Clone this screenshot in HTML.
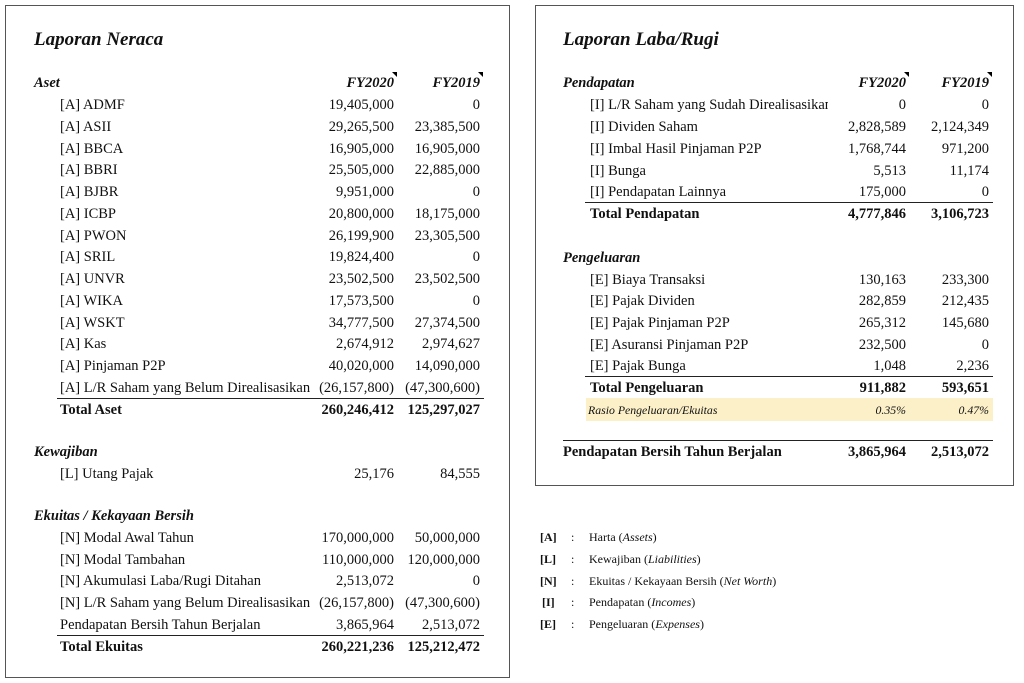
<!DOCTYPE html>
<html><head><meta charset="utf-8"><style>
body{margin:0;width:1024px;height:683px;background:#fff;position:relative;overflow:hidden;font-family:"Liberation Serif",serif;font-size:14.5px;color:#111}
.box{position:absolute;border:1.5px solid #555;box-sizing:border-box}
.t{position:absolute;line-height:20px;white-space:nowrap;margin-top:1px}
.h{font-weight:bold;font-style:italic}
.b{font-weight:bold}
.ttl{position:absolute;font-weight:bold;font-style:italic;font-size:19px;line-height:24px}
.ln{position:absolute;height:0;border-top:1.3px solid #222}
.tri{position:absolute;width:0;height:0;border-left:5px solid transparent;border-top:5px solid #000}
.lg{position:absolute;font-size:12px;line-height:16px;white-space:nowrap}
.rs{font-size:11.8px;font-style:italic}
</style></head><body>
<div class="box" style="left:5px;top:5px;width:505px;height:673px"></div>
<div class="box" style="left:535px;top:5px;width:479px;height:481px"></div>

<div class="ttl" style="left:34px;top:28px">Laporan Neraca</div>
<div class="t h" style="left:34px;top:72px">Aset</div>
<div class="t h" style="right:630px;top:72px">FY2020</div><div class="tri" style="left:392px;top:72px"></div>
<div class="t h" style="right:544px;top:72px">FY2019</div><div class="tri" style="left:478px;top:72px"></div>

<div class="t" style="left:60px;top:94px">[A] ADMF</div><div class="t" style="right:630px;top:94px">19,405,000</div><div class="t" style="right:544px;top:94px">0</div>
<div class="t" style="left:60px;top:116px">[A] ASII</div><div class="t" style="right:630px;top:116px">29,265,500</div><div class="t" style="right:544px;top:116px">23,385,500</div>
<div class="t" style="left:60px;top:138px">[A] BBCA</div><div class="t" style="right:630px;top:138px">16,905,000</div><div class="t" style="right:544px;top:138px">16,905,000</div>
<div class="t" style="left:60px;top:159px">[A] BBRI</div><div class="t" style="right:630px;top:159px">25,505,000</div><div class="t" style="right:544px;top:159px">22,885,000</div>
<div class="t" style="left:60px;top:181px">[A] BJBR</div><div class="t" style="right:630px;top:181px">9,951,000</div><div class="t" style="right:544px;top:181px">0</div>
<div class="t" style="left:60px;top:203px">[A] ICBP</div><div class="t" style="right:630px;top:203px">20,800,000</div><div class="t" style="right:544px;top:203px">18,175,000</div>
<div class="t" style="left:60px;top:225px">[A] PWON</div><div class="t" style="right:630px;top:225px">26,199,900</div><div class="t" style="right:544px;top:225px">23,305,500</div>
<div class="t" style="left:60px;top:246px">[A] SRIL</div><div class="t" style="right:630px;top:246px">19,824,400</div><div class="t" style="right:544px;top:246px">0</div>
<div class="t" style="left:60px;top:268px">[A] UNVR</div><div class="t" style="right:630px;top:268px">23,502,500</div><div class="t" style="right:544px;top:268px">23,502,500</div>
<div class="t" style="left:60px;top:290px">[A] WIKA</div><div class="t" style="right:630px;top:290px">17,573,500</div><div class="t" style="right:544px;top:290px">0</div>
<div class="t" style="left:60px;top:312px">[A] WSKT</div><div class="t" style="right:630px;top:312px">34,777,500</div><div class="t" style="right:544px;top:312px">27,374,500</div>
<div class="t" style="left:60px;top:333px">[A] Kas</div><div class="t" style="right:630px;top:333px">2,674,912</div><div class="t" style="right:544px;top:333px">2,974,627</div>
<div class="t" style="left:60px;top:355px">[A] Pinjaman P2P</div><div class="t" style="right:630px;top:355px">40,020,000</div><div class="t" style="right:544px;top:355px">14,090,000</div>
<div class="t" style="left:60px;top:377px">[A] L/R Saham yang Belum Direalisasikan</div><div class="t" style="right:630px;top:377px">(26,157,800)</div><div class="t" style="right:544px;top:377px">(47,300,600)</div>
<div class="ln" style="left:57px;top:398px;width:427px"></div>
<div class="t b" style="left:60px;top:399px">Total Aset</div><div class="t b" style="right:630px;top:399px">260,246,412</div><div class="t b" style="right:544px;top:399px">125,297,027</div>

<div class="t h" style="left:34px;top:441px">Kewajiban</div>
<div class="t" style="left:60px;top:463px">[L] Utang Pajak</div><div class="t" style="right:630px;top:463px">25,176</div><div class="t" style="right:544px;top:463px">84,555</div>

<div class="t h" style="left:34px;top:505px">Ekuitas / Kekayaan Bersih</div>
<div class="t" style="left:60px;top:527px">[N] Modal Awal Tahun</div><div class="t" style="right:630px;top:527px">170,000,000</div><div class="t" style="right:544px;top:527px">50,000,000</div>
<div class="t" style="left:60px;top:549px">[N] Modal Tambahan</div><div class="t" style="right:630px;top:549px">110,000,000</div><div class="t" style="right:544px;top:549px">120,000,000</div>
<div class="t" style="left:60px;top:570px">[N] Akumulasi Laba/Rugi Ditahan</div><div class="t" style="right:630px;top:570px">2,513,072</div><div class="t" style="right:544px;top:570px">0</div>
<div class="t" style="left:60px;top:592px">[N] L/R Saham yang Belum Direalisasikan</div><div class="t" style="right:630px;top:592px">(26,157,800)</div><div class="t" style="right:544px;top:592px">(47,300,600)</div>
<div class="t" style="left:60px;top:614px">Pendapatan Bersih Tahun Berjalan</div><div class="t" style="right:630px;top:614px">3,865,964</div><div class="t" style="right:544px;top:614px">2,513,072</div>
<div class="ln" style="left:57px;top:635px;width:427px"></div>
<div class="t b" style="left:60px;top:636px">Total Ekuitas</div><div class="t b" style="right:630px;top:636px">260,221,236</div><div class="t b" style="right:544px;top:636px">125,212,472</div>

<div class="ttl" style="left:563px;top:28px">Laporan Laba/Rugi</div>
<div class="t h" style="left:563px;top:72px">Pendapatan</div>
<div class="t h" style="right:118px;top:72px">FY2020</div><div class="tri" style="left:904px;top:72px"></div>
<div class="t h" style="right:35px;top:72px">FY2019</div><div class="tri" style="left:987px;top:72px"></div>

<div class="t" style="left:590px;top:94px;width:238px;overflow:hidden">[I] L/R Saham yang Sudah Direalisasikan</div><div class="t" style="right:118px;top:94px">0</div><div class="t" style="right:35px;top:94px">0</div>
<div class="t" style="left:590px;top:116px">[I] Dividen Saham</div><div class="t" style="right:118px;top:116px">2,828,589</div><div class="t" style="right:35px;top:116px">2,124,349</div>
<div class="t" style="left:590px;top:138px">[I] Imbal Hasil Pinjaman P2P</div><div class="t" style="right:118px;top:138px">1,768,744</div><div class="t" style="right:35px;top:138px">971,200</div>
<div class="t" style="left:590px;top:160px">[I] Bunga</div><div class="t" style="right:118px;top:160px">5,513</div><div class="t" style="right:35px;top:160px">11,174</div>
<div class="t" style="left:590px;top:181px">[I] Pendapatan Lainnya</div><div class="t" style="right:118px;top:181px">175,000</div><div class="t" style="right:35px;top:181px">0</div>
<div class="ln" style="left:585px;top:202px;width:408px"></div>
<div class="t b" style="left:590px;top:203px">Total Pendapatan</div><div class="t b" style="right:118px;top:203px">4,777,846</div><div class="t b" style="right:35px;top:203px">3,106,723</div>

<div class="t h" style="left:563px;top:247px">Pengeluaran</div>
<div class="t" style="left:590px;top:269px">[E] Biaya Transaksi</div><div class="t" style="right:118px;top:269px">130,163</div><div class="t" style="right:35px;top:269px">233,300</div>
<div class="t" style="left:590px;top:290px">[E] Pajak Dividen</div><div class="t" style="right:118px;top:290px">282,859</div><div class="t" style="right:35px;top:290px">212,435</div>
<div class="t" style="left:590px;top:312px">[E] Pajak Pinjaman P2P</div><div class="t" style="right:118px;top:312px">265,312</div><div class="t" style="right:35px;top:312px">145,680</div>
<div class="t" style="left:590px;top:334px">[E] Asuransi Pinjaman P2P</div><div class="t" style="right:118px;top:334px">232,500</div><div class="t" style="right:35px;top:334px">0</div>
<div class="t" style="left:590px;top:355px">[E] Pajak Bunga</div><div class="t" style="right:118px;top:355px">1,048</div><div class="t" style="right:35px;top:355px">2,236</div>
<div class="ln" style="left:585px;top:376px;width:408px"></div>
<div class="t b" style="left:590px;top:377px">Total Pengeluaran</div><div class="t b" style="right:118px;top:377px">911,882</div><div class="t b" style="right:35px;top:377px">593,651</div>
<div style="position:absolute;left:586px;top:398px;width:407px;height:23px;background:#fcf0c8"></div>
<div class="t rs" style="left:588px;top:399px">Rasio Pengeluaran/Ekuitas</div><div class="t rs" style="right:118px;top:399px">0.35%</div><div class="t rs" style="right:35px;top:399px">0.47%</div>
<div class="ln" style="left:563px;top:440px;width:430px"></div>
<div class="t b" style="left:563px;top:441px">Pendapatan Bersih Tahun Berjalan</div><div class="t b" style="right:118px;top:441px">3,865,964</div><div class="t b" style="right:35px;top:441px">2,513,072</div>

<div class="lg b" style="left:540px;top:529px">[A]</div><div class="lg" style="left:571px;top:529px">:</div><div class="lg" style="left:589px;top:529px">Harta (<i>Assets</i>)</div>
<div class="lg b" style="left:540px;top:551px">[L]</div><div class="lg" style="left:571px;top:551px">:</div><div class="lg" style="left:589px;top:551px">Kewajiban (<i>Liabilities</i>)</div>
<div class="lg b" style="left:540px;top:573px">[N]</div><div class="lg" style="left:571px;top:573px">:</div><div class="lg" style="left:589px;top:573px">Ekuitas / Kekayaan Bersih (<i>Net Worth</i>)</div>
<div class="lg b" style="left:542px;top:594px">[I]</div><div class="lg" style="left:571px;top:594px">:</div><div class="lg" style="left:589px;top:594px">Pendapatan (<i>Incomes</i>)</div>
<div class="lg b" style="left:540px;top:616px">[E]</div><div class="lg" style="left:571px;top:616px">:</div><div class="lg" style="left:589px;top:616px">Pengeluaran (<i>Expenses</i>)</div>
</body></html>
